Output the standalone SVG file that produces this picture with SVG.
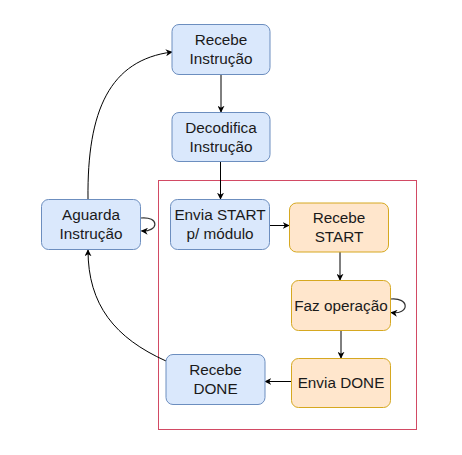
<svg xmlns="http://www.w3.org/2000/svg" width="462" height="455" viewBox="0 0 462 455">
<defs>
<style>
.b{fill:#dae8fc;stroke:#6c8ebf;stroke-width:1}
.o{fill:#ffe6cc;stroke:#d6a820;stroke-width:1}
text{font-family:"Liberation Sans",Arial,sans-serif;font-size:15.3px;fill:#1a1a1a;text-anchor:middle}
.c{fill:none;stroke:#000;stroke-width:1;marker-end:url(#ah)}
.c2{fill:none;stroke:#333;stroke-width:1.2;marker-end:url(#ah)}
</style>
<marker id="ah" viewBox="0 0 10 10" refX="9" refY="5" markerWidth="7" markerHeight="7" markerUnits="userSpaceOnUse" orient="auto">
<path d="M0,0 L10,5 L0,10 L3,5 Z" fill="#000"/>
</marker>
</defs>
<rect x="158.5" y="180.5" width="258" height="249" fill="none" stroke="#d24a64" stroke-width="1"/>
<g id="connectors">
<path class="c" d="M221,74 L221,112"/>
<path class="c" d="M220.5,162 L220.5,199"/>
<path class="c" d="M269,225.5 L289,225.5"/>
<path class="c" d="M340,252 L340,280"/>
<path class="c" d="M341,330 L341,358"/>
<path class="c" d="M292,381.5 L265,381.5"/>
<path class="c" d="M166,361 C115,338 88,305 88,250"/>
<path class="c" d="M88,199 C87,110 110,60 172,52"/>
<path class="c2" d="M140.5,218 C160,216 159,232 141.5,231"/>
<path class="c2" d="M390.5,299 C410,297 410,315 391,312.5"/>
</g>
<g id="recebe-instrucao"><rect class="b" x="172" y="24.5" width="98" height="50" rx="7"/><text x="221" y="45">Recebe</text><text x="221" y="64">Instrução</text></g>
<g id="decodifica-instrucao"><rect class="b" x="172" y="112.5" width="98" height="49" rx="7"/><text x="221" y="133">Decodifica</text><text x="221" y="152">Instrução</text></g>
<g id="aguarda-instrucao"><rect class="b" x="41.5" y="199.5" width="99" height="50" rx="7"/><text x="91" y="220">Aguarda</text><text x="91" y="239">Instrução</text></g>
<g id="envia-start"><rect class="b" x="170.5" y="199.5" width="99" height="50" rx="7"/><text x="220" y="220">Envia START</text><text x="220" y="239">p/ módulo</text></g>
<g id="recebe-start"><rect class="o" x="289.5" y="203" width="99" height="49" rx="7"/><text x="339" y="223">Recebe</text><text x="339" y="242">START</text></g>
<g id="faz-operacao"><rect class="o" x="291.5" y="280.5" width="99" height="50" rx="7"/><text x="341" y="310.5">Faz operação</text></g>
<g id="envia-done"><rect class="o" x="291.5" y="358.5" width="99" height="49" rx="7"/><text x="341" y="388">Envia DONE</text></g>
<g id="recebe-done"><rect class="b" x="166" y="354.5" width="99" height="50" rx="7"/><text x="215.5" y="375">Recebe</text><text x="215.5" y="394">DONE</text></g>
</svg>
